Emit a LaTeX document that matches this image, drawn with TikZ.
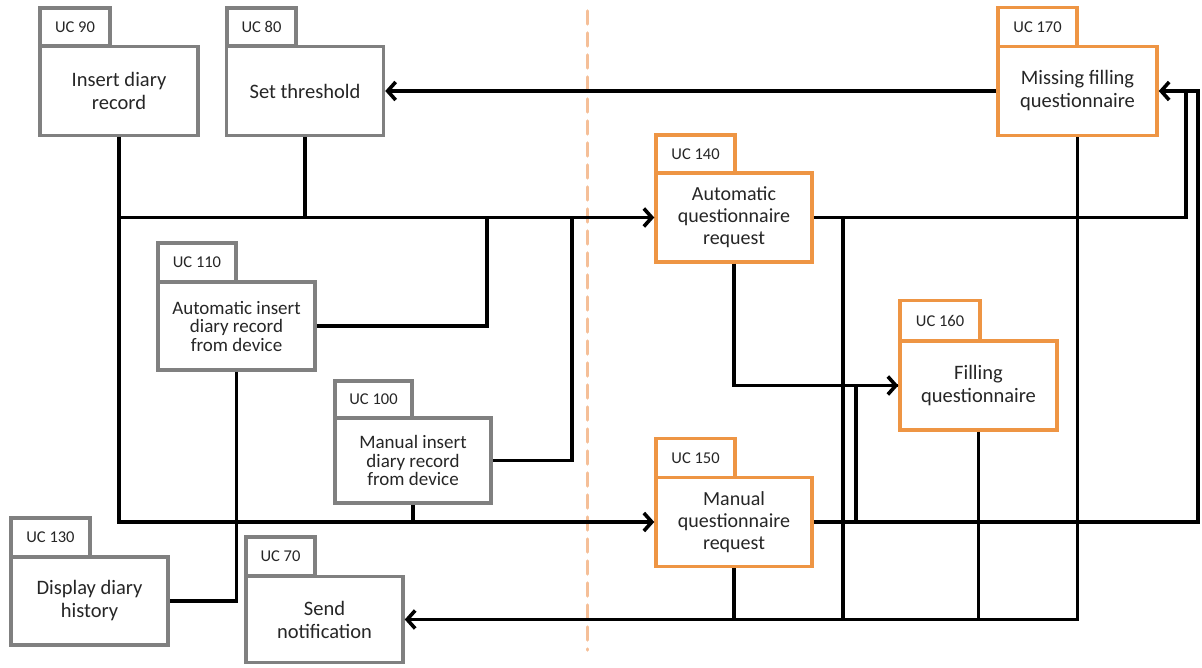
\documentclass[tikz,border=0pt]{standalone}
\usepackage{fontspec}
\setmainfont{Carlito}
\usetikzlibrary{arrows.meta,shadows}
\definecolor{boxgray}{HTML}{808080}
\definecolor{boxorange}{HTML}{EE9544}
\definecolor{dashorange}{HTML}{F5BF98}
\definecolor{txt}{HTML}{262626}
\tikzset{
  shd/.style={drop shadow={shadow xshift=1.5pt,shadow yshift=-1.5pt,opacity=0.25,fill=black!60}},
  gbox/.style={draw=boxgray,line width=3.5pt,fill=white,align=center,inner sep=2pt,shd,text=txt,
    font=\fontsize{20.5}{23}\selectfont},
  obox/.style={gbox,draw=boxorange},
  gtab/.style={draw=boxgray,line width=3.5pt,fill=white,inner sep=1pt,shd,text=txt,
    font=\fontsize{16.5}{18}\selectfont},
  otab/.style={gtab,draw=boxorange},
  small/.style={font=\fontsize{19}{18.5}\selectfont},
  conn/.style={draw=black,line width=3.6pt},
  arr/.style={conn,-{Straight Barb[length=8pt,width=18pt,line width=3.6pt]}},
  dashline/.style={draw=dashorange,line width=3.5pt,dash pattern=on 13pt off 9pt,line cap=round}
}
\begin{document}
\begin{tikzpicture}[x=1pt,y=-1pt]
\useasboundingbox (0,0) rectangle (1202,668);
% separator
\coordinate (d1) at (587.5,11);
\coordinate (d2) at (587.5,650);
\draw[dashline] (d1) -- (d2);
% boxes
\node[gtab,minimum width=70pt,minimum height=38pt] (uc90t) at (75,27) {UC 90};
\node[gbox,minimum width=158pt,minimum height=89pt] (uc90) at (119,91) {Insert diary\\record};
\node[gtab,minimum width=69pt,minimum height=38pt] (uc80t) at (261.5,27) {UC 80};
\node[gbox,minimum width=157pt,minimum height=89pt] (uc80) at (305,91) {Set threshold};
\node[otab,minimum width=79pt,minimum height=39pt] (uc170t) at (1037.5,27) {UC 170};
\node[obox,minimum width=159pt,minimum height=89pt] (uc170) at (1077.5,91) {Missing filling\\questionnaire};
\node[otab,minimum width=79pt,minimum height=38pt] (uc140t) at (695.5,154) {UC 140};
\node[obox,minimum width=156pt,minimum height=89pt,font=\fontsize{20}{22}\selectfont] (uc140) at (734,217.5) {Automatic\\questionnaire\\request};
\node[gtab,minimum width=78pt,minimum height=39pt] (uc110t) at (197,262.5) {UC 110};
\node[gbox,small,minimum width=157pt,minimum height=88pt] (uc110) at (236.5,326) {Automatic insert\\diary record\\from device};
\node[gtab,minimum width=77pt,minimum height=37pt] (uc100t) at (373.5,399.5) {UC 100};
\node[gbox,small,minimum width=156pt,minimum height=85pt] (uc100) at (413,460.5) {Manual insert\\diary record\\from device};
\node[otab,minimum width=80pt,minimum height=40pt] (uc160t) at (940,320.5) {UC 160};
\node[obox,minimum width=157pt,minimum height=89pt] (uc160) at (978.5,385.5) {Filling\\questionnaire};
\node[otab,minimum width=79pt,minimum height=39pt] (uc150t) at (695.5,458) {UC 150};
\node[obox,minimum width=156pt,minimum height=89pt,font=\fontsize{20}{22}\selectfont] (uc150) at (734,522) {Manual\\questionnaire\\request};
\node[gtab,minimum width=79pt,minimum height=39pt] (uc130t) at (50.5,537.5) {UC 130};
\node[gbox,minimum width=157pt,minimum height=88pt] (uc130) at (89.5,601) {Display diary\\history};
\node[gtab,minimum width=69pt,minimum height=39pt] (uc70t) at (280.5,556.5) {UC 70};
\node[gbox,minimum width=157pt,minimum height=86pt] (uc70) at (324.5,619.5) {Send\\notification};
% junction coordinates
\coordinate (j110) at (487,217.5);
\coordinate (j100) at (572,217.5);
\coordinate (k1) at (1186,91);
\coordinate (k2) at (1198,91);
\coordinate (v1) at (843,217.5);
\coordinate (v2) at (843,619.5);
\coordinate (w1) at (856,522);
% connectors
\draw[arr] (uc170.west) -- (uc80.east);
\draw[arr] (uc90.south) |- (uc150.west);
\draw[arr] (uc90.south |- uc140.west) -- (uc140.west);
\draw[conn] (uc80.south) -- (uc80.south |- uc140.west);
\draw[conn] (uc110.east) -| (j110);
\draw[conn] (uc100.east) -| (j100);
\draw[conn] (uc100.south) -- (uc100.south |- uc150.west);
\draw[conn] (uc110.south) |- (uc130.east);
\draw[arr] (uc140.south) |- (uc160.west);
\draw[conn] (uc140.east) -| (k1);
\draw[arr] (uc150.east) -| (k2) -- (uc170.east);
\draw[conn] (v1) -- (v2);
\draw[conn] (w1) |- (uc160.west);
\draw[arr] (uc170.south) |- (uc70.east);
\draw[conn] (uc160.south) -- (uc160.south |- uc70.east);
\draw[conn] (uc150.south) -- (uc150.south |- uc70.east);
\end{tikzpicture}
\end{document}
